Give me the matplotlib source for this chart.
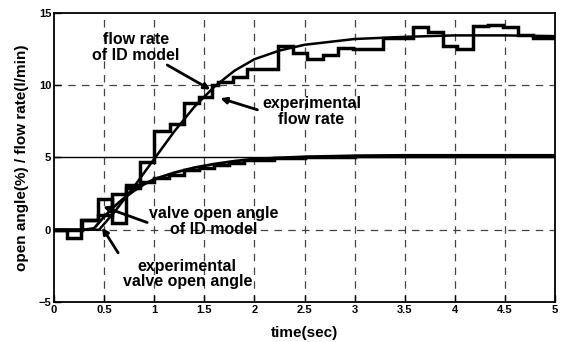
"""Step response of the valve / flow loop: experiment vs. identified model."""

import matplotlib
matplotlib.use("Agg")
import matplotlib.pyplot as plt

plt.rcParams.update({
    "font.family": "Liberation Sans",
    "font.weight": "bold",
})

# ---------------------------------------------------------------------------
# Data
# ---------------------------------------------------------------------------

# experimental flow rate (zero-order hold: step start times and held values)
flow_exp_t = [0.0, 0.28, 0.44, 0.58, 0.72, 0.86, 1.0, 1.16, 1.3, 1.45, 1.58,
              1.64, 1.79, 1.93, 2.24, 2.39, 2.52, 2.68, 2.83, 2.98, 3.28,
              3.58, 3.73, 3.88, 4.02, 4.18, 4.33, 4.48, 4.63, 4.78, 5.0]
flow_exp_v = [0.0, 0.7, 1.0, 2.5, 3.1, 4.7, 6.8, 7.3, 8.8, 9.2, 10.0,
              10.2, 10.6, 11.1, 12.7, 12.2, 11.8, 12.1, 12.6, 12.5, 13.3,
              14.0, 13.7, 12.7, 12.5, 14.1, 14.2, 14.0, 13.5, 13.3, 13.3]

# flow rate of the identified model
flow_mod_t = [0.0, 0.45, 0.6, 0.8, 1.0, 1.2, 1.4, 1.6, 1.8, 2.0, 2.25, 2.5,
              2.75, 3.0, 3.5, 4.0, 4.5, 5.0]
flow_mod_v = [0.0, 0.0, 1.2, 3.0, 4.9, 6.8, 8.5, 9.9, 11.0, 11.8, 12.4, 12.8,
              13.0, 13.2, 13.35, 13.45, 13.45, 13.4]

# experimental valve open angle (zero-order hold)
valve_exp_t = [0.0, 0.13, 0.27, 0.44, 0.58, 0.72, 0.86, 1.0, 1.15, 1.3, 1.45,
               1.6, 1.75, 1.9, 2.05, 2.2, 2.5, 3.0, 5.0]
valve_exp_v = [0.0, -0.6, 0.7, 2.1, 0.5, 2.9, 3.3, 3.6, 3.8, 4.1, 4.3,
               4.5, 4.6, 4.8, 4.85, 4.95, 5.05, 5.1, 5.1]

# valve open angle of the identified model
valve_mod_t = [0.0, 0.3, 0.4, 0.5, 0.6, 0.7, 0.8, 0.9, 1.0, 1.2, 1.4, 1.6,
               1.8, 2.0, 2.5, 3.0, 3.5, 4.0, 5.0]
valve_mod_v = [0.0, 0.0, 0.1, 0.9, 1.6, 2.2, 2.7, 3.15, 3.5, 3.95, 4.3, 4.55,
               4.75, 4.9, 5.05, 5.12, 5.15, 5.15, 5.15]

x_ticks = [0, 0.5, 1, 1.5, 2, 2.5, 3, 3.5, 4, 4.5, 5]
x_tick_labels = ["0", "0.5", "1", "1.5", "2", "2.5", "3", "3.5", "4", "4.5", "5"]
y_ticks = [-5, 0, 5, 10, 15]

# ---------------------------------------------------------------------------
# Plot
# ---------------------------------------------------------------------------

fig = plt.figure(figsize=(5.61, 3.42), dpi=100)
ax = fig.add_axes([0.0963, 0.117, 0.893, 0.845])

grid_kw = dict(color="#444444", lw=0.9, ls=(0, (6, 5)), zorder=1)
for xv in x_ticks[1:-1]:
    ax.axvline(xv, **grid_kw)
for yv in (0, 10):
    ax.axhline(yv, **grid_kw)
ax.axhline(5, color="black", lw=1.0, zorder=1)

ax.step(flow_exp_t, flow_exp_v, where="post", color="black", lw=2.5,
        solid_joinstyle="miter", zorder=3)
ax.plot(flow_mod_t, flow_mod_v, color="black", lw=1.8, zorder=4)
ax.step(valve_exp_t, valve_exp_v, where="post", color="black", lw=2.5,
        solid_joinstyle="miter", zorder=3)
ax.plot(valve_mod_t, valve_mod_v, color="black", lw=2.0, zorder=4)

ax.set_xlim(0, 5)
ax.set_ylim(-5, 15)
ax.set_xticks(x_ticks)
ax.set_xticklabels(x_tick_labels)
ax.set_yticks(y_ticks)
ax.tick_params(direction="in", length=5, width=1.0, labelsize=8, pad=2)
for lbl in ax.get_xticklabels() + ax.get_yticklabels():
    lbl.set_fontweight("bold")
for sp in ax.spines.values():
    sp.set_linewidth(1.3)

ax.set_xlabel("time(sec)", fontsize=11, fontweight="bold", labelpad=8)
ax.set_ylabel("open angle(%) / flow rate(l/min)", fontsize=11,
              fontweight="bold", labelpad=7)

# annotations: text placed first, then an arrow from a separate start point
arrow_kw = dict(arrowstyle="-|>", color="black", lw=2.0,
                mutation_scale=9, shrinkA=0, shrinkB=0)
text_kw = dict(fontsize=11.5, fontweight="bold", ha="center", va="center",
               linespacing=1.05)

ax.text(0.82, 12.6, "flow rate\nof ID model", **text_kw)
ax.annotate("", xy=(1.56, 9.7), xytext=(1.13, 11.4), arrowprops=arrow_kw)

ax.text(2.57, 8.2, "experimental\nflow rate", **text_kw)
ax.annotate("", xy=(1.66, 9.1), xytext=(2.03, 8.3), arrowprops=arrow_kw)

ax.text(1.59, 0.55, "valve open angle\nof ID model", **text_kw)
ax.annotate("", xy=(0.49, 1.6), xytext=(0.93, 0.5), arrowprops=arrow_kw)

ax.text(1.33, -3.05, "experimental\nvalve open angle", **text_kw)
ax.annotate("", xy=(0.48, 0.15), xytext=(0.64, -1.6), arrowprops=arrow_kw)

fig.savefig("out.png", dpi=100)
